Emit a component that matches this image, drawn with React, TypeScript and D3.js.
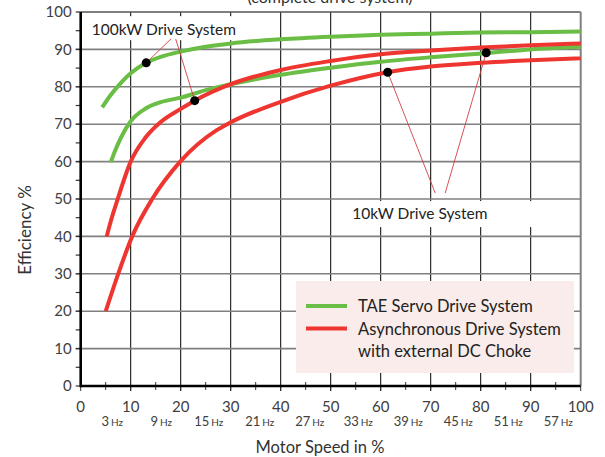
import React from "react";
import * as d3 from "d3";

const W = 605;
const H = 457;

// Series data (motor speed % -> efficiency %)
const servo100X = [4.3, 6, 8, 10, 13.1, 16, 20, 25, 30, 40, 50, 60, 70, 80, 90, 100];
const servo100Y = [74.5, 77.8, 81, 83.6, 86.4, 88, 89.4, 90.7, 91.6, 92.7, 93.4, 93.9, 94.2, 94.5, 94.6, 94.8];

const servo10X = [6, 7, 8, 10, 13, 16, 20, 25, 30, 40, 50, 60, 70, 81, 90, 100];
const servo10Y = [59.8, 63.3, 66.3, 70.8, 74.2, 75.9, 77.1, 79.1, 80.7, 83.2, 85.1, 86.7, 87.9, 89.0, 90.0, 90.7];

const async100X = [5.2, 6, 7.4, 10, 13, 16, 20, 22.8, 30, 40, 50, 60, 70, 80, 90, 100];
const async100Y = [40, 44, 50, 60, 66.5, 70.6, 74.1, 76.3, 80.7, 84.5, 86.9, 88.7, 89.7, 90.5, 91.1, 91.6];

const async10X = [5, 7.5, 10.3, 14.3, 19.9, 27.2, 30, 40, 50, 61.4, 70, 80, 90, 100];
const async10Y = [20, 30, 40, 50, 60, 68.4, 70.5, 76.0, 80.3, 83.9, 85.4, 86.4, 87.1, 87.6];

// Annotation dots
const dotX = [13.1, 22.8, 61.4, 81.1];
const dotY = [86.4, 76.3, 83.9, 89.1];
// Leader line origins (one per dot)
const leadX = [18.06, 19.0, 70.9, 72.9];
const leadY = [92.8, 92.8, 51.6, 51.6];

const annotLabels = ["100kW Drive System", "10kW Drive System"];
const annotX = [2.2, 54.3];
const annotY = [95.4, 46.1];

const xTicks = [0, 10, 20, 30, 40, 50, 60, 70, 80, 90, 100];
const yTicks = [0, 10, 20, 30, 40, 50, 60, 70, 80, 90, 100];
const hzNums = ["3", "9", "15", "21", "27", "33", "39", "45", "51", "57"];
const hzPos = [6.3, 16.1, 25.6, 35.8, 45.8, 55.5, 65.5, 75.5, 85.5, 95.5];

const legendLabels = [["TAE Servo Drive System"], ["Asynchronous Drive System", "with external DC Choke"]];

const GREEN = "#6abd45";
const RED = "#ee3530";
const FONT = "Lato, 'Open Sans', sans-serif";

export default function App() {
  const x = d3.scaleLinear().domain([0, 100]).range([80.7, 580.7]);
  const y = d3.scaleLinear().domain([0, 100]).range([386, 12]);

  const line = d3
    .line<[number, number]>()
    .x((d) => x(d[0]))
    .y((d) => y(d[1]))
    .curve(d3.curveMonotoneX);

  const zip = (a: number[], b: number[]) => a.map((v, i) => [v, b[i]] as [number, number]);

  const series = [
    { d: zip(servo100X, servo100Y), c: GREEN },
    { d: zip(servo10X, servo10Y), c: GREEN },
    { d: zip(async100X, async100Y), c: RED },
    { d: zip(async10X, async10Y), c: RED },
  ];

  const minorY = d3.range(0, 101, 5);
  const minorX = d3.range(5, 100, 10);

  return (
    <svg
      width={W}
      height={H}
      style={{ position: "absolute", left: 0, top: 0, background: "#fff" }}
      fontFamily={FONT}
    >
      {/* title, clipped at top as in the reference */}
      <text x={330} y={3} textAnchor="middle" fontSize={16} fill="#333">
        (complete drive system)
      </text>

      {/* vertical gridlines */}
      {xTicks.slice(1, -1).map((t) => (
        <line key={"vx" + t} x1={x(t)} x2={x(t)} y1={y(100)} y2={y(0) + 5} stroke="#000" strokeWidth={1} />
      ))}
      {/* horizontal gridlines */}
      {yTicks.slice(1, -1).map((t) => (
        <line key={"hy" + t} x1={x(0) - 5} x2={x(100)} y1={y(t)} y2={y(t)} stroke="#808080" strokeWidth={1.6} />
      ))}
      {/* minor y ticks */}
      {minorY.map((t) => (
        <line key={"my" + t} x1={x(0) - 5} x2={x(0)} y1={y(t)} y2={y(t)} stroke="#333" strokeWidth={1.2} />
      ))}
      {/* minor x ticks */}
      {minorX.map((t) => (
        <line key={"mx" + t} x1={x(t)} x2={x(t)} y1={y(0) - 4} y2={y(0) + 4} stroke="#333" strokeWidth={1} />
      ))}
      {xTicks.map((t) => (
        <line key={"tx" + t} x1={x(t)} x2={x(t)} y1={y(0)} y2={y(0) + 5} stroke="#333" strokeWidth={1} />
      ))}
      {/* top and right border */}
      <line x1={x(0)} x2={x(100)} y1={y(100)} y2={y(100)} stroke="#555" strokeWidth={1.3} />
      <line x1={x(100)} x2={x(100)} y1={y(100)} y2={y(0)} stroke="#808080" strokeWidth={2} />

      {/* label boxes */}
      <rect x={x(annotX[0]) - 7} y={y(annotY[0]) - 13} width={158} height={24} fill="#fff" />
      <rect x={x(annotX[1]) - 12} y={y(annotY[1]) - 12.5} width={195} height={26} fill="#fff" />

      {/* curves */}
      {series.map((s, i) => (
        <path key={"s" + i} d={line(s.d) || ""} fill="none" stroke={s.c} strokeWidth={4} strokeLinecap="butt" />
      ))}

      {/* leader lines */}
      {dotX.map((dx, i) => (
        <line
          key={"ld" + i}
          x1={x(leadX[i])}
          y1={y(leadY[i])}
          x2={x(dx)}
          y2={y(dotY[i])}
          stroke="#d04040"
          strokeWidth={0.9}
        />
      ))}
      {dotX.map((dx, i) => (
        <circle key={"dt" + i} cx={x(dx)} cy={y(dotY[i])} r={4.5} fill="#000" />
      ))}

      {/* annotation labels */}
      {annotLabels.map((l, i) => (
        <text key={"al" + i} x={x(annotX[i])} y={y(annotY[i])} dy="0.35em" fontSize={15.5} fill="#222">
          {l}
        </text>
      ))}

      {/* axes */}
      <line x1={x(0)} x2={x(0)} y1={y(100)} y2={y(0) + 1.2} stroke="#000" strokeWidth={2.6} />
      <line x1={x(0)} x2={x(100)} y1={y(0)} y2={y(0)} stroke="#000" strokeWidth={2.6} />

      {/* y tick labels */}
      {yTicks.map((t) => (
        <text key={"yl" + t} x={x(0) - 9} y={y(t)} dy="0.35em" textAnchor="end" fontSize={15} fill="#404040">
          {t}
        </text>
      ))}
      {/* x tick labels */}
      {xTicks.map((t) => (
        <text key={"xl" + t} x={x(t)} y={407} dy="0.35em" textAnchor="middle" fontSize={15} fill="#404040">
          {t}
        </text>
      ))}
      {hzNums.map((n, i) => (
        <text key={"hz" + i} x={x(hzPos[i])} y={421} dy="0.35em" textAnchor="middle" fontSize={13} fill="#404040">
          {n}
          <tspan fontSize={10} dx={2}>Hz</tspan>
        </text>
      ))}

      {/* axis titles */}
      <text x={320} y={447} dy="0.35em" textAnchor="middle" fontSize={16.5} fill="#333">
        Motor Speed in %
      </text>
      <text
        transform={`translate(25,${230}) rotate(-90)`}
        dy="0.35em"
        textAnchor="middle"
        fontSize={17}
        fill="#333"
      >
        Efficiency %
      </text>

      {/* legend */}
      <rect x={296} y={281} width={278} height={92} fill="#f9ecea" />
      <line x1={306} x2={347} y1={306} y2={306} stroke={GREEN} strokeWidth={4} />
      <line x1={306} x2={347} y1={328.5} y2={328.5} stroke={RED} strokeWidth={4} />
      <text x={358} y={306} dy="0.35em" fontSize={16.5} fill="#222">
        {legendLabels[0][0]}
      </text>
      <text x={358} y={329} dy="0.35em" fontSize={16.5} fill="#222">
        {legendLabels[1][0]}
      </text>
      <text x={358} y={351} dy="0.35em" fontSize={16.5} fill="#222">
        {legendLabels[1][1]}
      </text>
    </svg>
  );
}
